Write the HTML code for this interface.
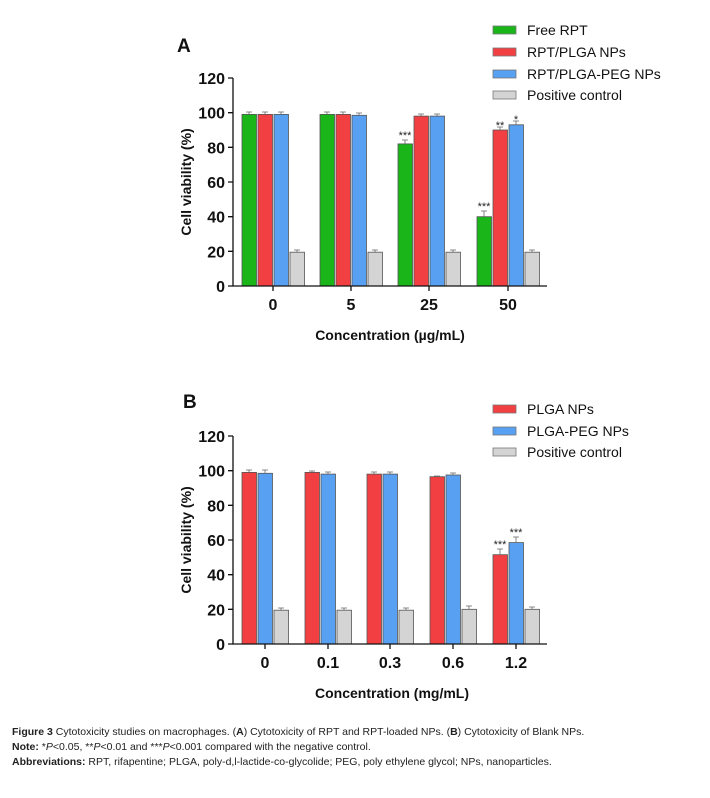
<!DOCTYPE html>
<html><head><meta charset="utf-8"><style>
body{margin:0;background:#fff;width:710px;height:798px;overflow:hidden;font-family:"Liberation Sans",sans-serif}
.cap{position:absolute;left:12px;font-size:10.5px;color:#222;white-space:nowrap}
</style></head><body>
<svg width="710" height="798" style="position:absolute;left:0;top:0" font-family="Liberation Sans, sans-serif">
<g stroke="#555" stroke-width="0.8">
<!-- Chart A bars -->
<rect x="242" y="114.4" width="14.5" height="171.6" fill="#19b519"/>
<rect x="258" y="114.4" width="14.5" height="171.6" fill="#f23f42"/>
<rect x="274" y="114.4" width="14.5" height="171.6" fill="#58a0f2"/>
<rect x="290" y="252.2" width="14.5" height="33.8" fill="#d4d4d4"/>
<rect x="320" y="114.4" width="14.5" height="171.6" fill="#19b519"/>
<rect x="336" y="114.4" width="14.5" height="171.6" fill="#f23f42"/>
<rect x="352" y="115.3" width="14.5" height="170.7" fill="#58a0f2"/>
<rect x="368" y="252.2" width="14.5" height="33.8" fill="#d4d4d4"/>
<rect x="398" y="143.9" width="14.5" height="142.1" fill="#19b519"/>
<rect x="414" y="116.1" width="14.5" height="169.9" fill="#f23f42"/>
<rect x="430" y="116.1" width="14.5" height="169.9" fill="#58a0f2"/>
<rect x="446" y="252.2" width="14.5" height="33.8" fill="#d4d4d4"/>
<rect x="477" y="216.7" width="14.5" height="69.3" fill="#19b519"/>
<rect x="493" y="130" width="14.5" height="156" fill="#f23f42"/>
<rect x="509" y="124.8" width="14.5" height="161.2" fill="#58a0f2"/>
<rect x="525" y="252.2" width="14.5" height="33.8" fill="#d4d4d4"/>
<!-- Chart B bars -->
<rect x="242" y="472.4" width="14.5" height="171.6" fill="#f23f42"/>
<rect x="258" y="473.3" width="14.5" height="170.7" fill="#58a0f2"/>
<rect x="274" y="610.2" width="14.5" height="33.8" fill="#d4d4d4"/>
<rect x="305" y="472.4" width="14.5" height="171.6" fill="#f23f42"/>
<rect x="321" y="474.1" width="14.5" height="169.9" fill="#58a0f2"/>
<rect x="337" y="610.2" width="14.5" height="33.8" fill="#d4d4d4"/>
<rect x="367" y="474.1" width="14.5" height="169.9" fill="#f23f42"/>
<rect x="383" y="474.1" width="14.5" height="169.9" fill="#58a0f2"/>
<rect x="399" y="610.2" width="14.5" height="33.8" fill="#d4d4d4"/>
<rect x="430" y="476.7" width="14.5" height="167.3" fill="#f23f42"/>
<rect x="446" y="475" width="14.5" height="169" fill="#58a0f2"/>
<rect x="462" y="609.3" width="14.5" height="34.7" fill="#d4d4d4"/>
<rect x="493" y="554.7" width="14.5" height="89.3" fill="#f23f42"/>
<rect x="509" y="542.6" width="14.5" height="101.4" fill="#58a0f2"/>
<rect x="525" y="609.3" width="14.5" height="34.7" fill="#d4d4d4"/>
</g>
<!-- error bars -->
<g stroke="#666" stroke-width="0.8" fill="none">
<path d="M249 114v-2m-3 0h6 M265 114v-2m-3 0h6 M281 114v-2m-3 0h6 M297 252v-2m-3 0h6"/>
<path d="M327 114v-2m-3 0h6 M343 114v-2m-3 0h6 M359 115v-2m-3 0h6 M375 252v-2m-3 0h6"/>
<path d="M405 144v-4m-3 0h6 M421 116v-2m-3 0h6 M437 116v-2m-3 0h6 M453 252v-2m-3 0h6"/>
<path d="M484 217v-6m-3 0h6 M500 130v-3m-3 0h6 M516 125v-4m-3 0h6 M532 252v-2m-3 0h6"/>
<path d="M249 472v-2m-3 0h6 M265 473v-3m-3 0h6 M281 610v-2m-3 0h6 M312 472v-1m-3 0h6 M328 474v-2m-3 0h6 M344 610v-2m-3 0h6"/>
<path d="M374 474v-2m-3 0h6 M390 474v-2m-3 0h6 M406 610v-2m-3 0h6 M437 477v-1m-3 0h6 M453 475v-2m-3 0h6 M469 609v-3m-3 0h6"/>
<path d="M500 555v-6m-3 0h6 M516 543v-6m-3 0h6 M532 609v-2m-3 0h6"/>
</g>
<!-- axes -->
<g stroke="#111" stroke-width="1.3" fill="none">
<path d="M233 78V286H547"/>
<path d="M228 78h5M228 112.7h5M228 147.3h5M228 182h5M228 216.7h5M228 251.3h5M228 286h5"/>
<path d="M273 286v5M351 286v5M429 286v5M508 286v5"/>
<path d="M233 436V644H547"/>
<path d="M228 436h5M228 470.7h5M228 505.3h5M228 540h5M228 574.7h5M228 609.3h5M228 644h5"/>
<path d="M265 644v5M328 644v5M390 644v5M453 644v5M516 644v5"/>
</g>
<g font-weight="bold" font-size="16" text-anchor="end" fill="#111">
<text x="225" y="84">120</text><text x="225" y="118.7">100</text><text x="225" y="153.3">80</text><text x="225" y="188">60</text><text x="225" y="222.7">40</text><text x="225" y="257.3">20</text><text x="225" y="292">0</text>
<text x="225" y="442">120</text><text x="225" y="476.7">100</text><text x="225" y="511.3">80</text><text x="225" y="546">60</text><text x="225" y="580.7">40</text><text x="225" y="615.3">20</text><text x="225" y="650">0</text>
</g>
<g font-weight="bold" font-size="16" text-anchor="middle" fill="#111">
<text x="273" y="310">0</text><text x="351" y="310">5</text><text x="429" y="310">25</text><text x="508" y="310">50</text>
<text x="265" y="668">0</text><text x="328" y="668">0.1</text><text x="390" y="668">0.3</text><text x="453" y="668">0.6</text><text x="516" y="668">1.2</text>
</g>
<g font-weight="bold" font-size="14" text-anchor="middle" fill="#111">
<text x="390" y="340">Concentration (µg/mL)</text>
<text x="392" y="698">Concentration (mg/mL)</text>
<text transform="translate(191,182) rotate(-90)">Cell viability (%)</text>
<text transform="translate(191,540) rotate(-90)">Cell viability (%)</text>
</g>
<text x="177" y="52" font-weight="bold" font-size="19" fill="#111">A</text>
<text x="183" y="408" font-weight="bold" font-size="19" fill="#111">B</text>
<g font-size="11" fill="#222" text-anchor="middle">
<text x="405" y="139">***</text><text x="500" y="129">**</text><text x="516" y="123">*</text><text x="484" y="210">***</text>
<text x="500" y="548">***</text><text x="516" y="536">***</text>
</g>
<!-- legends -->
<g stroke="#777" stroke-width="0.8">
<rect x="493" y="26" width="23" height="8" fill="#19b519"/>
<rect x="493" y="48" width="23" height="8" fill="#f23f42"/>
<rect x="493" y="70" width="23" height="8" fill="#58a0f2"/>
<rect x="493" y="91" width="23" height="8" fill="#d4d4d4"/>
<rect x="493" y="405" width="23" height="8" fill="#f23f42"/>
<rect x="493" y="427" width="23" height="8" fill="#58a0f2"/>
<rect x="493" y="448" width="23" height="8" fill="#d4d4d4"/>
</g>
<g font-size="14" fill="#111">
<text x="527" y="35">Free RPT</text><text x="527" y="57">RPT/PLGA NPs</text><text x="527" y="79">RPT/PLGA-PEG NPs</text><text x="527" y="100">Positive control</text>
<text x="527" y="414">PLGA NPs</text><text x="527" y="436">PLGA-PEG NPs</text><text x="527" y="457">Positive control</text>
</g>
</svg>
<div class="cap" style="top:726px"><b>Figure 3</b> Cytotoxicity studies on macrophages. (<b>A</b>) Cytotoxicity of RPT and RPT-loaded NPs. (<b>B</b>) Cytotoxicity of Blank NPs.</div>
<div class="cap" style="top:741px"><b>Note:</b> *<i>P</i>&lt;0.05, **<i>P</i>&lt;0.01 and ***<i>P</i>&lt;0.001 compared with the negative control.</div>
<div class="cap" style="top:756px"><b>Abbreviations:</b> RPT, rifapentine; PLGA, poly-d,l-lactide-co-glycolide; PEG, poly ethylene glycol; NPs, nanoparticles.</div>
</body></html>
